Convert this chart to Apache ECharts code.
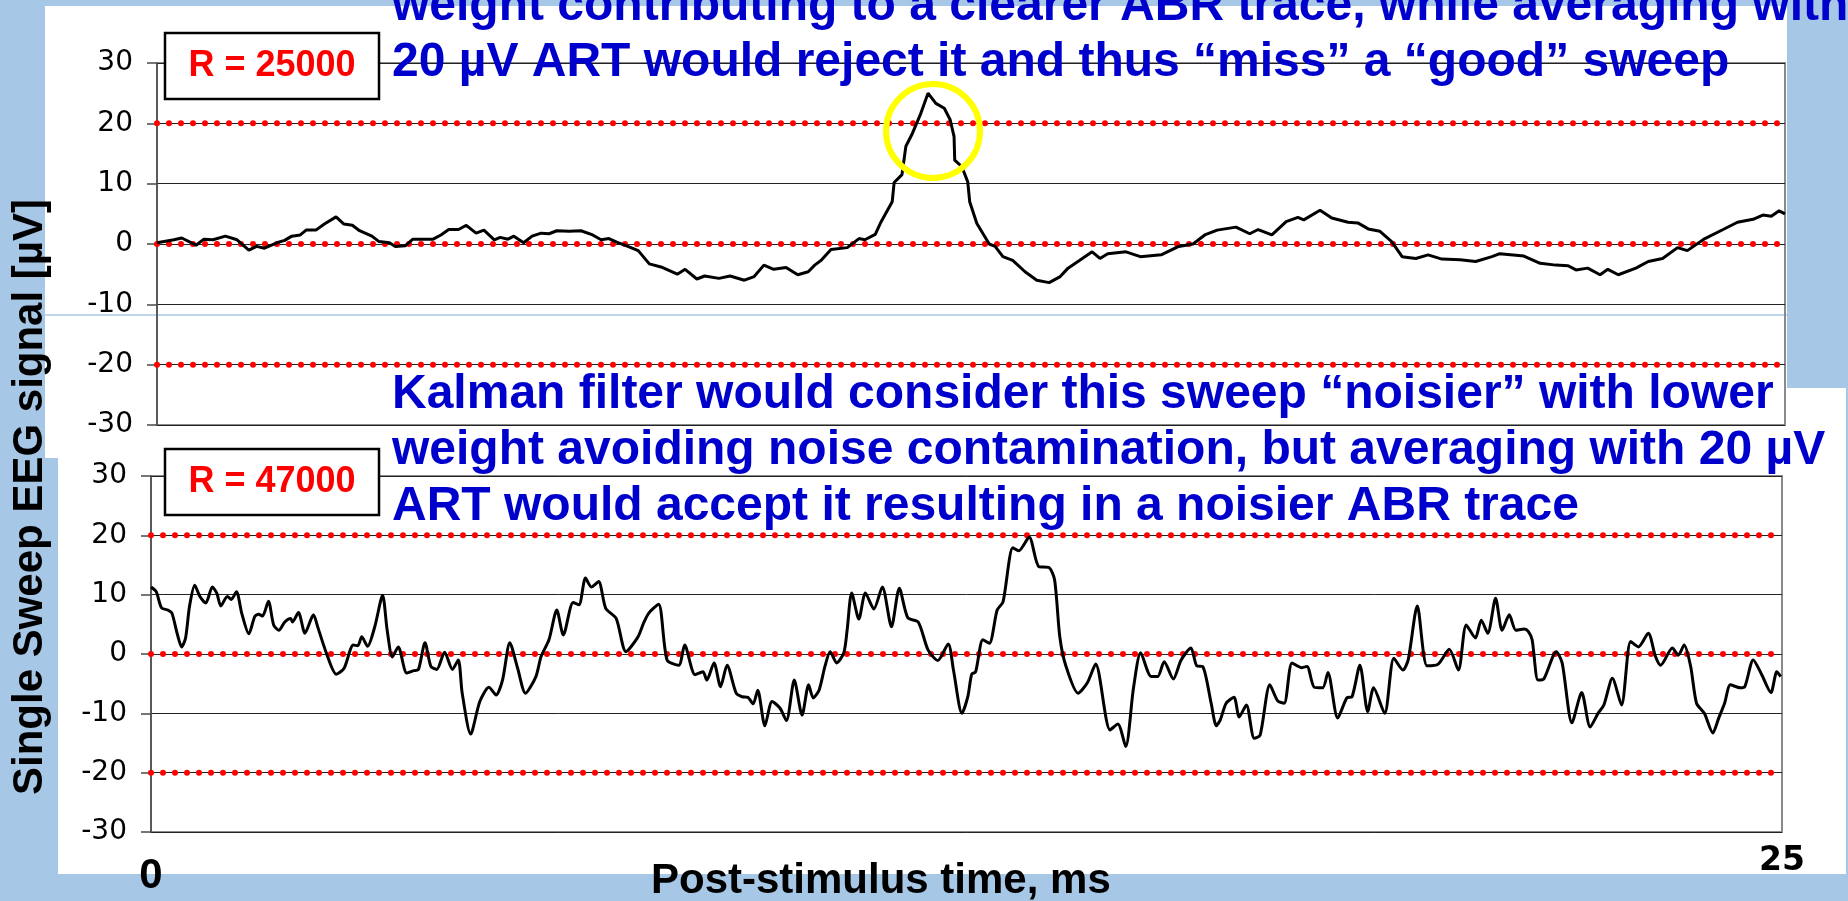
<!DOCTYPE html>
<html><head><meta charset="utf-8">
<script src="https://cdn.jsdelivr.net/npm/echarts@6/dist/echarts.min.js"></script>
<style>html,body{margin:0;padding:0;background:#A7C7E7;overflow:hidden}#c{width:1848px;height:901px}</style>
</head><body><div id="c"></div>
<script>
// ---------- data ----------
const topTime = [0,0.26,0.38,0.6,0.72,0.86,1.05,1.23,1.41,1.53,1.65,1.84,1.96,2.07,2.2,2.29,2.44,2.57,2.75,2.87,3.0,3.11,3.3,3.41,3.57,3.66,3.81,3.93,4.24,4.36,4.48,4.63,4.75,4.9,5.02,5.18,5.27,5.39,5.48,5.63,5.76,5.9,6.02,6.14,6.33,6.51,6.69,6.82,6.94,7.06,7.23,7.39,7.56,7.74,7.99,8.11,8.29,8.41,8.63,8.8,9.02,9.17,9.32,9.47,9.66,9.84,10.0,10.1,10.2,10.35,10.6,10.78,10.87,11.03,11.12,11.29,11.32,11.44,11.5,11.59,11.72,11.84,11.96,12.09,12.18,12.24,12.25,12.36,12.45,12.48,12.59,12.78,12.87,12.99,13.14,13.33,13.51,13.7,13.87,13.99,14.17,14.36,14.48,14.6,14.88,15.1,15.42,15.69,15.91,16.09,16.28,16.57,16.78,16.91,17.12,17.34,17.52,17.61,17.86,18.04,18.29,18.44,18.6,18.78,18.96,19.12,19.33,19.52,19.73,20.01,20.25,20.5,20.62,20.99,21.24,21.48,21.67,21.79,21.97,22.16,22.28,22.44,22.71,22.9,23.12,23.35,23.5,23.77,24.05,24.27,24.51,24.66,24.79,24.91,25.0];
const topValues = [0.2,0.7,1.0,-0.2,0.8,0.7,1.3,0.7,-1.0,-0.4,-0.7,0.2,0.6,1.3,1.5,2.3,2.3,3.3,4.5,3.3,3.1,2.2,1.3,0.4,0.2,-0.4,-0.3,0.8,0.8,1.5,2.4,2.4,3.1,1.8,2.3,0.7,1.1,0.8,1.3,0.2,1.3,1.8,1.7,2.2,2.1,2.2,1.5,0.7,0.9,0.3,-0.4,-1.1,-3.3,-3.8,-5.0,-4.2,-5.8,-5.3,-5.7,-5.3,-6.0,-5.4,-3.5,-4.2,-3.9,-5.1,-4.6,-3.5,-2.7,-0.9,-0.6,0.9,0.7,1.6,3.7,7.0,10.2,11.5,16.2,18.1,21.4,25.0,23.3,22.5,20.6,17.8,13.9,12.8,10.3,7.0,3.4,0,-0.4,-2.1,-2.7,-4.6,-6.0,-6.4,-5.4,-4.0,-2.7,-1.3,-2.4,-1.6,-1.3,-2.1,-1.8,-0.4,0,1.5,2.3,2.8,1.7,2.4,1.5,3.7,4.4,4.0,5.6,4.3,3.6,3.5,2.5,2.1,0.4,-2.1,-2.4,-1.8,-2.5,-2.6,-2.9,-2.1,-1.6,-2.0,-3.2,-3.5,-3.6,-4.3,-4.0,-5.1,-4.2,-5.1,-4.0,-2.9,-2.4,-0.6,-1.1,0.9,2.4,3.6,4.1,4.8,4.6,5.5,5.0];

const bottomTime = [0,0.08,0.16,0.26,0.32,0.4,0.47,0.53,0.59,0.67,0.75,0.84,0.94,1.01,1.07,1.17,1.23,1.31,1.39,1.5,1.59,1.65,1.71,1.8,1.88,1.96,2.05,2.14,2.17,2.26,2.36,2.49,2.56,2.69,2.84,2.96,3.1,3.17,3.23,3.32,3.43,3.55,3.62,3.7,3.79,3.92,4.03,4.1,4.2,4.29,4.38,4.5,4.62,4.71,4.77,4.9,5.04,5.18,5.29,5.39,5.5,5.62,5.74,5.9,5.98,6.1,6.22,6.32,6.47,6.56,6.66,6.75,6.86,6.97,7.13,7.28,7.46,7.55,7.63,7.78,7.91,8.09,8.18,8.34,8.46,8.52,8.63,8.73,8.83,8.97,9.06,9.15,9.23,9.3,9.41,9.52,9.64,9.74,9.86,9.98,10.08,10.15,10.24,10.33,10.41,10.51,10.62,10.67,10.74,10.85,10.95,11.08,11.21,11.35,11.47,11.6,11.76,11.91,12.06,12.22,12.3,12.43,12.52,12.58,12.64,12.75,12.85,12.97,13.06,13.21,13.3,13.46,13.61,13.76,13.85,13.93,14.02,14.21,14.35,14.48,14.7,14.82,14.94,15.06,15.17,15.33,15.43,15.53,15.67,15.79,15.94,16.03,16.12,16.25,16.33,16.39,16.48,16.6,16.68,16.79,16.91,17.0,17.15,17.27,17.37,17.49,17.64,17.72,17.83,17.96,18.04,18.19,18.33,18.41,18.53,18.65,18.74,18.91,19.05,19.19,19.27,19.41,19.56,19.73,19.9,20.04,20.16,20.3,20.39,20.49,20.61,20.71,20.82,20.92,21.05,21.11,21.17,21.26,21.35,21.54,21.63,21.78,21.93,22.06,22.18,22.27,22.4,22.54,22.68,22.8,22.95,23.06,23.14,23.32,23.41,23.5,23.6,23.69,23.81,23.94,24.03,24.12,24.21,24.36,24.43,24.56,24.69,24.83,24.92,24.98];
const bottomValues = [11.3,10.5,7.8,7.4,6.9,3.5,1.2,2.7,8.0,11.6,9.7,8.6,11.3,10.2,8.1,9.7,9.2,10.5,6.9,3.4,6.3,6.7,6.4,8.9,4.9,4.0,5.4,6.0,5.4,7.0,3.5,6.6,4.4,0.1,-3.4,-2.4,1.5,1.4,2.9,1.3,4.6,9.9,4.0,-0.5,1.2,-3.2,-2.8,-2.6,1.9,-2.1,-2.6,0.3,-2.6,-1.0,-6.6,-13.5,-8.0,-5.6,-6.9,-4.3,1.9,-2.4,-6.6,-3.8,-0.4,2.4,7.4,3.2,8.7,8.3,12.8,11.3,12.2,7.7,6.0,0.4,2.8,5.2,6.9,8.4,-1.0,-1.9,1.5,-3.5,-3.0,-4.4,-1.5,-5.5,-1.9,-6.6,-7.2,-7.3,-8.4,-6.1,-12.1,-8.0,-9.1,-11.2,-4.4,-10.3,-5.2,-7.4,-6.1,-2.1,0.4,-1.5,0.2,4.0,10.3,5.9,10.3,7.6,11.3,4.6,11.1,6.1,5.4,0.7,-1.1,1.7,-2.7,-10.0,-7.2,-3.4,-3.0,2.4,1.8,7.4,8.8,17.9,17.4,19.7,14.7,14.6,12.5,2.9,-1.9,-6.6,-4.9,-1.7,-12.8,-11.8,-15.6,-5.7,0.2,-3.8,-3.8,-1.3,-4.2,-1.0,1.0,-2.0,-2.1,-8.3,-12.1,-11.1,-8.3,-7.3,-10.6,-8.6,-14.2,-13.7,-5.2,-7.9,-8.3,-1.5,-2.3,-2.1,-5.6,-5.7,-3.1,-10.8,-7.4,-7.2,-1.9,-9.7,-5.7,-10.0,-0.7,-2.7,-1.0,8.1,-2.0,-1.7,0.8,-2.7,4.9,2.7,5.7,3.5,9.4,4.0,6.6,4.0,4.2,3.8,2.4,-4.4,-4.2,0.4,-1.5,-11.6,-6.5,-12.3,-10.0,-8.6,-4.1,-8.6,2.1,1.2,3.5,-0.4,-1.9,1.0,-0.2,1.5,-2.1,-8.3,-10.0,-13.3,-10.8,-8.3,-5.2,-5.7,-5.5,-1.0,-3.5,-6.5,-3.0,-3.8];

const yTickValues = [-30, -20, -10, 0, 10, 20, 30];
const thresholds = [20, 0, -20];
const xTickValues = [0, 25];
const xTickLabels = ['0', '25'];
const resistanceLabels = ['R = 25000', 'R = 47000'];
const topNote = ['weight contributing to a clearer ABR trace, while averaging with',
                 '20 \u00B5V ART would reject it and thus \u201Cmiss\u201D a \u201Cgood\u201D sweep'];
const bottomNote = ['Kalman filter would consider this sweep \u201Cnoisier\u201D with lower',
                    'weight avoiding noise contamination, but averaging with 20 \u00B5V',
                    'ART would accept it resulting in a noisier ABR trace'];
const yTitle = 'Single Sweep EEG signal [\u00B5V]';
const xTitle = 'Post-stimulus time, ms';

// ---------- chart ----------
const FONT = '"Liberation Sans", Arial, sans-serif';
const WIDE = '"DejaVu Sans", sans-serif';
const BLUE_BG = '#A7C7E7';
const chart = echarts.init(document.getElementById('c'), null, {renderer: 'canvas'});

const grids = [
  {left: 157, top: 63, width: 1628, height: 362},
  {left: 151, top: 476, width: 1631, height: 356}
].map(g => Object.assign(g, {show: true, borderColor: '#8a8a8a', borderWidth: 2, backgroundColor: 'transparent'}));

const yAxes = [0, 1].map(i => ({
  gridIndex: i, type: 'value',
  min: yTickValues[0], max: yTickValues[yTickValues.length - 1], interval: yTickValues[1] - yTickValues[0],
  axisLine: {show: true, onZero: false, lineStyle: {color: '#4a4a4a', width: 1.5}},
  axisTick: {show: true, length: 10, lineStyle: {color: '#4a4a4a', width: 1.5}},
  axisLabel: {fontSize: 28, color: '#000', margin: 24, fontFamily: WIDE},
  splitLine: {show: true, lineStyle: {color: '#222', width: 1}}
}));

const xAxes = [0, 1].map(i => ({
  gridIndex: i, type: 'value',
  min: xTickValues[0], max: xTickValues[1], interval: xTickValues[1] - xTickValues[0],
  axisLine: {show: false, onZero: false},
  axisTick: {show: false},
  splitLine: {show: false},
  axisLabel: i === 0 ? {show: false} : {
    show: true, margin: 11, showMinLabel: true, showMaxLabel: true,
    formatter: v => (v === xTickValues[0] ? '{a|' + xTickLabels[0] + '}' : '{b|' + xTickLabels[1] + '}'),
    rich: {
      a: {fontSize: 42, fontWeight: 'bold', color: '#000', fontFamily: FONT, lineHeight: 42, padding: [24, 0, 0, 0]},
      b: {fontSize: 33, fontWeight: 'bold', color: '#000', fontFamily: WIDE, lineHeight: 36}
    }
  }
}));

const series = [];
[0, 1].forEach(g => {
  thresholds.forEach(th => {
    series.push({
      type: 'line', xAxisIndex: g, yAxisIndex: g, silent: true, z: 2,
      data: [[xTickValues[0], th], [xTickValues[1], th]],
      symbol: 'none',
      lineStyle: {color: '#ff0000', width: 6, type: [0, 12], cap: 'round'}
    });
  });
});
series.push({
  type: 'line', xAxisIndex: 0, yAxisIndex: 0, z: 3, symbol: 'none',
  data: topTime.map((t, i) => [t, topValues[i]]),
  lineStyle: {color: '#000', width: 3}
});
series.push({
  type: 'line', xAxisIndex: 1, yAxisIndex: 1, z: 3, symbol: 'none', smooth: 0.25,
  data: bottomTime.map((t, i) => [t, bottomValues[i]]),
  lineStyle: {color: '#000', width: 3}
});

const noteStyle = {fontSize: 48, fontWeight: 'bold', fontFamily: FONT, fill: '#0000CC', align: 'left', verticalAlign: 'middle'};
const elements = [
  {type: 'rect', z: -100, shape: {x: 45, y: 6, width: 1742, height: 452}, style: {fill: '#fff'}},
  {type: 'rect', z: -100, shape: {x: 58, y: 388, width: 1788, height: 486}, style: {fill: '#fff'}},
  {type: 'line', z: -50, shape: {x1: 45, y1: 315, x2: 1787, y2: 315}, style: {stroke: BLUE_BG, lineWidth: 1.5}},
  {type: 'ellipse', z: 60, shape: {cx: 933, cy: 131, rx: 47, ry: 47}, style: {fill: 'none', stroke: '#FFFF00', lineWidth: 6}}
];
[[33, 66], [449, 482]].forEach((pos, i) => {
  elements.push({type: 'rect', z: 50, shape: {x: 165, y: pos[0], width: 214, height: 66}, style: {fill: '#fff', stroke: '#000', lineWidth: 2.5}});
  elements.push({type: 'text', z: 51, x: 272, y: pos[1], style: {text: resistanceLabels[i], fontSize: 36, fontWeight: 'bold', fontFamily: FONT, fill: '#ff0000', align: 'center', verticalAlign: 'middle'}});
});
[7, 63].forEach((y, i) => elements.push({type: 'text', z: 70, x: 392, y: y, style: Object.assign({text: topNote[i]}, noteStyle)}));
[395, 451, 507].forEach((y, i) => elements.push({type: 'text', z: 70, x: 392, y: y, style: Object.assign({text: bottomNote[i]}, noteStyle)}));
elements.push({type: 'text', z: 70, x: 30, y: 497, rotation: Math.PI / 2,
  style: {text: yTitle, fontSize: 42, fontWeight: 'bold', fontFamily: FONT, fill: '#000', align: 'center', verticalAlign: 'middle'}});
elements.push({type: 'text', z: 70, x: 651, y: 881,
  style: {text: xTitle, fontSize: 42, fontWeight: 'bold', fontFamily: FONT, fill: '#000', align: 'left', verticalAlign: 'middle'}});

chart.setOption({
  animation: false,
  backgroundColor: BLUE_BG,
  grid: grids,
  xAxis: xAxes,
  yAxis: yAxes,
  series: series,
  graphic: {elements: elements}
});
</script></body></html>
